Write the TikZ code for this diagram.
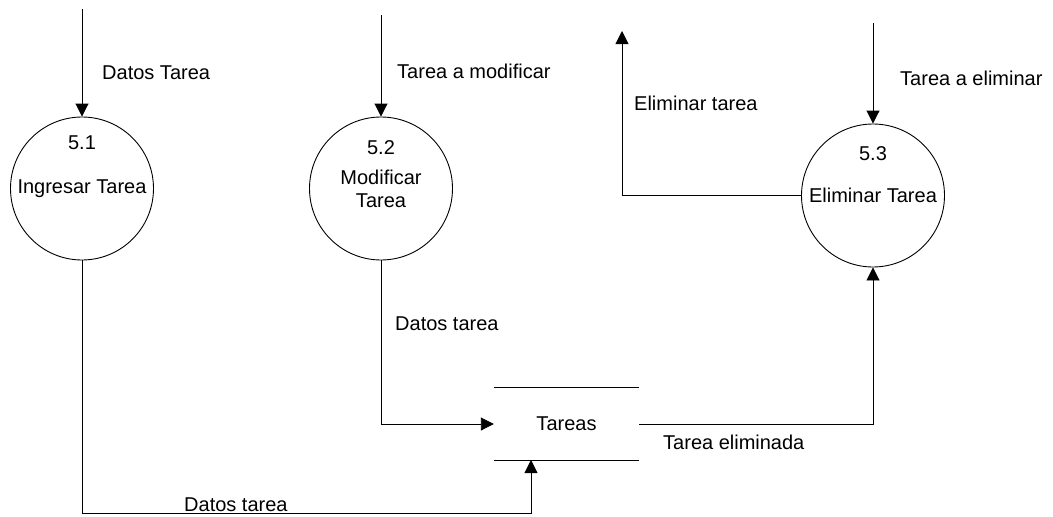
\documentclass[tikz,border=0pt]{standalone}
\usepackage{fontspec}
\setmainfont{Liberation Sans}
\usetikzlibrary{arrows.meta}
\begin{document}
\begin{tikzpicture}[x=1pt,y=-1pt,
  font=\fontsize{20}{23}\selectfont,
  process/.style={draw,circle,line width=0.9pt,minimum size=143pt,inner sep=0pt,align=center},
  flow/.style={line width=0.9pt,-{Triangle[length=13pt,width=13pt]}},
  plain/.style={line width=0.9pt},
  lbl/.style={anchor=west,inner sep=0pt,text height=14.4pt,text depth=0pt},
  num/.style={inner sep=0pt,text height=14.4pt,text depth=0pt}]
  \useasboundingbox (0,0) rectangle (1053,517);

  % processes
  \node[process] (p1) at (82,188.5) {Ingresar Tarea};
  \node[process] (p2) at (381,188.5) {Modificar\\Tarea};
  \node[process] (p3) at (873,195.5) {Eliminar Tarea};
  \node[num] (n1) at (82,142) {5.1};
  \node[num] (n2) at (381,147) {5.2};
  \node[num] (n3) at (873,153) {5.3};

  % data store
  \node[minimum width=145pt,minimum height=72pt,inner sep=0pt] (store) at (566.5,424) {Tareas};
  \draw[plain] (store.north west) -- (store.north east);
  \draw[plain] (store.south west) -- (store.south east);

  % free ends of the external flows
  \coordinate (s1) at (82,9);
  \coordinate (s2) at (381,15);
  \coordinate (s3) at (873,23);
  \coordinate (e3) at (622,31);

  % flows
  \draw[flow] (s1) -- (p1.north);
  \draw[flow] (s2) -- (p2.north);
  \draw[flow] (s3) -- (p3.north);
  \draw[flow] (p3.west) -- (e3 |- p3.west) -- (e3);
  \draw[flow] (p2.south) |- (store.west);
  \draw[flow] (p1.south) -- (82,513) -| (531,460);
  \draw[flow] (store.east) -| (p3.south);

  % flow labels
  \node[lbl] (l1) at (102,72) {Datos Tarea};
  \node[lbl] (l2) at (397,71) {Tarea a modificar};
  \node[lbl] (l3) at (900,78) {Tarea a eliminar};
  \node[lbl] (l4) at (634,103) {Eliminar tarea};
  \node[lbl] (l5) at (395,323) {Datos tarea};
  \node[lbl] (l6) at (184,504) {Datos tarea};
  \node[lbl] (l7) at (663,442) {Tarea eliminada};
\end{tikzpicture}
\end{document}
